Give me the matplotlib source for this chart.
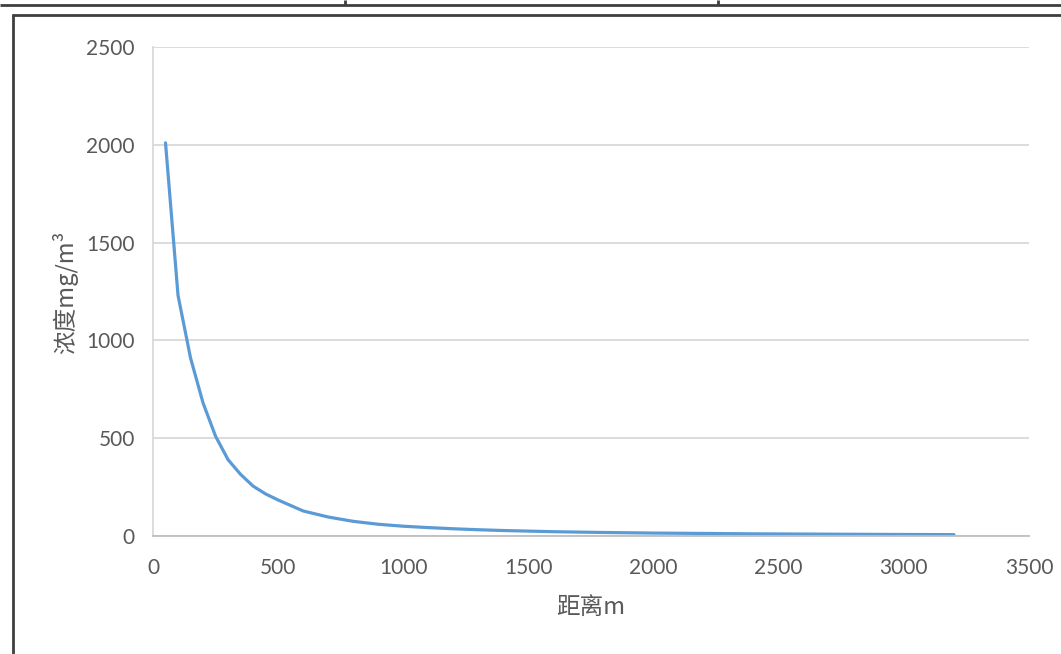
import matplotlib
matplotlib.use("Agg")
import matplotlib.pyplot as plt
from matplotlib.lines import Line2D

distance = [50, 100, 150, 200, 250, 300, 350, 400, 450, 500, 600, 700, 800, 900,
            1000, 1100, 1200, 1300, 1400, 1500, 1600, 1700, 1800, 1900, 2000,
            2100, 2200, 2300, 2400, 2500, 2600, 2700, 2800, 2900, 3000, 3100, 3200]
concentration = [2010, 1230, 910, 680, 510, 390, 315, 255, 215, 184, 128, 97,
                 75, 60, 50, 43, 37, 32, 28, 25, 22, 20, 18, 16.5, 15, 14, 13,
                 12, 11, 10.5, 10, 9.3, 8.8, 8.3, 7.8, 7.4, 7]
x_ticks = [0, 500, 1000, 1500, 2000, 2500, 3000, 3500]
y_ticks = [0, 500, 1000, 1500, 2000, 2500]
x_label = "距离m"
y_label = "浓度mg/m³"

W, H = 1061, 654
fig = plt.figure(figsize=(W / 100, H / 100), dpi=100)
fig.patch.set_facecolor("white")

ax = fig.add_axes([153 / W, 1 - 536 / H, (1029 - 153) / W, (536 - 47) / H])
ax.plot(distance, concentration, color="#5B9BD5", lw=2.3,
        solid_capstyle="round", solid_joinstyle="round")
ax.set_xlim(0, 3500)
ax.set_ylim(0, 2500)
ax.set_xticks(x_ticks)
ax.set_yticks(y_ticks)
ax.grid(axis="y", color="#D9D9D9", lw=1.3)
ax.set_axisbelow(True)
for s in ["top", "right"]:
    ax.spines[s].set_visible(False)
ax.spines["left"].set_color("#D9D9D9")
ax.spines["left"].set_linewidth(1.3)
ax.spines["bottom"].set_color("#BFBFBF")
ax.spines["bottom"].set_linewidth(1.3)
ax.tick_params(length=0, labelcolor="#595959", labelsize=15)
ax.tick_params(axis="y", pad=13)
ax.tick_params(axis="x", pad=16)
for lab in ax.get_xticklabels() + ax.get_yticklabels():
    lab.set_family(["Lato", "DejaVu Sans"])

fig.text(591 / W, 1 - 607 / H, x_label, ha="center", va="center", color="#595959",
         fontsize=17, family=["Noto Sans CJK SC", "DejaVu Sans"])
fig.text(65 / W, 1 - 292 / H, y_label, ha="center", va="center", color="#595959",
         rotation=90, fontsize=17, family=["Noto Sans CJK SC", "DejaVu Sans"])

# surrounding table lines and chart frame
def hline(y, x0, x1, lw=2.0, c="#3F3F3F"):
    fig.add_artist(Line2D([x0 / W, x1 / W], [1 - y / H, 1 - y / H], color=c, lw=lw,
                          solid_capstyle="butt", transform=fig.transFigure))

def vline(x, y0, y1, lw=2.0, c="#3F3F3F"):
    fig.add_artist(Line2D([x / W, x / W], [1 - y0 / H, 1 - y1 / H], color=c, lw=lw,
                          solid_capstyle="butt", transform=fig.transFigure))

hline(4.5, 0, W)
vline(345, 0, 4.5)
vline(718, 0, 4.5)
hline(14.5, 11.5, W)
vline(12.5, 13.5, H)

fig.savefig("out.png", dpi=100, facecolor="white")
